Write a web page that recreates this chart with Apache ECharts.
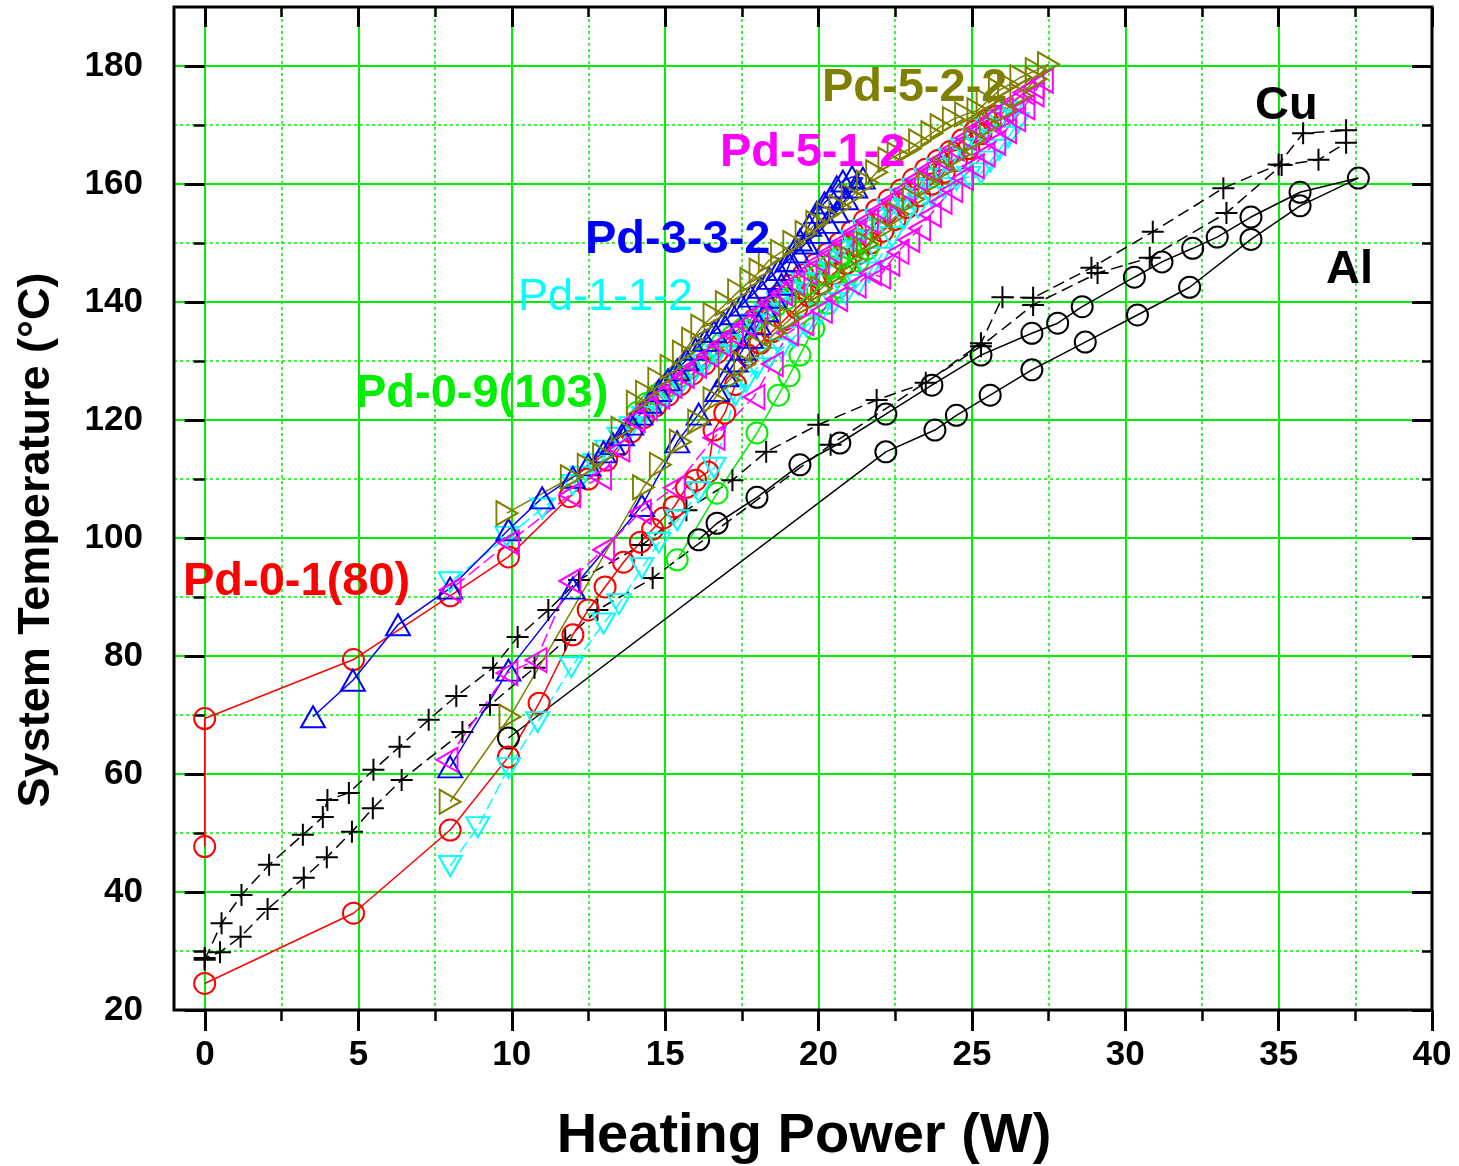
<!DOCTYPE html>
<html>
<head>
<meta charset="utf-8">
<script src="https://cdn.jsdelivr.net/npm/echarts@6/dist/echarts.min.js"></script>
<style>html,body{margin:0;padding:0;background:#fff}#c{width:1459px;height:1166px}</style>
</head>
<body>
<div id="c"></div>
<script>
// ---------- data ----------
const xRange = [0, 40];
const yRange = [20, 180];

const pd_0_1 = [[0,24.5],[4.85,36.4],[8,50.5],[9.9,62.9],[10.9,72],[12,83.6],[12.5,87.8],[13.05,91.7],[13.65,95.9],[14.2,99.3],[14.6,101.5],[14.95,103.4],[15.3,105.3],[15.7,108.6],[16,109.8],[16.4,111.2],[16.6,118.3],[16.95,121.2],[17.3,126],[17.7,131],[18.1,133],[18.5,135],[18.9,137],[19.3,139],[19.7,141],[20.1,143],[20.5,144.8],[20.9,146.5],[21.3,148.2],[21.7,150],[22.1,152],[22.5,154],[22.9,156],[23.3,158],[23.7,160],[24.1,162],[24.5,164],[24.9,166],[25.3,168.5],[25.8,171.5],
  [25.5,170.8],[25.1,169],[24.7,167.5],[24.3,165.5],[23.9,164],[23.5,162.5],[23.1,160.8],[22.7,159],[22.3,157.3],[21.9,155.6],[21.5,153.8],[21.1,152],[20.7,150],[20.3,148.2],[19.9,146.4],[19.5,144.6],[19.1,142.8],[18.7,141],[18.3,139],[17.9,137],[17.5,135.2],[17.1,133.3],[16.7,131.4],[16.3,129.5],[15.9,127.8],[15.5,126],[15.1,124.2],[14.7,122.4],[14.3,120.4],[13.9,118],[13.5,115.6],[13.1,113.2],[12.5,110],[11.9,107],[9.9,96.8],[8,90.2],[4.85,79.4],[0,69.4],[0,47.7]];

const pd_0_9 = [[15.4,96.3],[16.7,107.6],[18,117.8],[18.7,124.2],[19.05,127.5],[19.4,131],[19.85,135.5],[20.3,139.8],[20.65,142.5],[21,144.9],[21.3,147],[21.6,149],
  [21.4,150.5],[21.05,149],[20.7,147.5],[20.35,146],[20,144.5],[19.65,143],[19.3,141.8],[18.95,140.5],[18.6,139.3],[18.25,138],[17.9,136.8],[17.55,135.5],[17.2,134.2],[16.85,133],[16.5,131.7],[16.15,130.3],[15.8,128.8],[15.45,127.3],[15.1,125.8],[14.75,124.3],[14.4,122.8],[14.1,121.3]];

const pd_1_1_2 = [[8,44.4],[8.9,51],[9.9,61],[10.85,68.8],[11.95,78.1],[13,85.5],[13.5,88.8],[14.25,94.9],[14.8,99.2],[15.4,103],[16.1,107.8],[16.6,111.9],[17.3,124.2],[17.65,126.5],[18,128.8],[18.4,130.5],[18.8,132],[19.2,134],[19.6,136],[20.05,138],[20.5,139.8],[20.9,141.3],[21.3,142.9],[21.65,145],[22,147.5],[22.4,151],[22.8,154.2],[23.25,156],[23.7,157.8],[24.1,159.3],[24.5,160.7],[24.9,161.2],[25.3,161.8],[25.6,163.8],[25.9,165.8],[26.2,168],[26.5,170.3],
  [26.3,172.2],[25.9,170.8],[25.5,169.3],[25.1,167.5],[24.7,166],[24.3,164.3],[23.9,162.6],[23.5,160.9],[23.1,159.2],[22.7,157.5],[22.3,155.7],[21.9,154],[21.5,152.2],[21.1,150.4],[20.7,148.6],[20.3,146.8],[19.9,145],[19.5,143.2],[19.1,141.5],[18.7,139.8],[18.3,138],[17.9,136.2],[17.5,134.5],[17.1,132.8],[16.7,131],[16.3,129.3],[15.9,127.5],[15.5,125.8],[15.1,124],[14.7,122.3],[14.3,120.5],[13.9,118.8],[13.5,117],[13.1,114.8],[12.7,112.5],[12.3,110.4],[12,109],[11,105],[9.85,100.2],[8,92.5]];

const pd_3_3_2 = [[8,61.2],[9.9,77.6],[12,91.5],[14.25,105.5],[15.4,116.3],[16.1,121],[16.7,125],[17,127.5],[17.3,130],[17.55,132],[17.8,134],[18.05,136.3],[18.3,138.5],[18.55,140.8],[18.8,143],[19.1,147],[19.4,150.5],[19.7,153],[19.95,155.2],[20.2,156.8],[20.4,157.8],[20.6,159.5],[20.8,160.5],[21.1,161.2],[21.45,161],
  [21.2,159.5],[20.9,157.5],[20.6,155.3],[20.3,153.5],[20,151.8],[19.6,150],[19.3,148.5],[19,147],[18.7,145.5],[18.4,144],[18.1,142.5],[17.8,141],[17.5,139.5],[17.2,138],[16.9,136.5],[16.6,135],[16.3,133.5],[16,132],[15.7,130.2],[15.4,128.5],[15.1,126.8],[14.8,125],[14.5,123],[14.2,121],[13.9,119.3],[13.6,117.5],[13.3,116],[13,114.6],[12.5,112.4],[12,110.3],[11,106.8],[9.9,101.4],[8,91.5],[6.3,85.3],[4.83,75.9],[3.53,69.7]];

const pd_5_1_2 = [[7.9,62.4],[9.85,77.1],[10.8,79.3],[11.9,92.7],[13,98],[14.2,104.4],[15.3,108.5],[16.6,117],[17.9,123.9],[18.5,129.5],[19,134.7],[19.5,136.4],[20.1,138.5],[20.6,140.5],[21.2,142.8],[21.7,144.9],[22,144.3],[22.3,146.5],[22.6,148.5],[22.95,150.5],[23.3,152.5],[23.65,154.8],[24,157],[24.35,159],[24.7,161],[25.05,163],[25.4,165],[25.75,167],[26.1,169],[26.4,171],[26.7,173],[27,175.2],[27.3,177.5],
  [27,176.5],[26.7,175.5],[26.35,174],[26,172.5],[25.6,171],[25.2,169.5],[24.8,167.8],[24.4,166],[24,164.2],[23.6,162.5],[23.2,160.8],[22.8,159],[22.4,157.2],[22,155.5],[21.6,153.8],[21.2,152],[20.8,150.2],[20.4,148.5],[20,146.8],[19.6,145],[19.2,143.2],[18.8,141.5],[18.4,139.8],[18,138],[17.6,136.2],[17.2,134.5],[16.8,132.8],[16.4,131],[16,129.2],[15.6,127.5],[15.2,125.8],[14.8,124],[14.4,122],[14,120],[13.5,115],[12.9,110.3],[11.9,107.3],[9.9,99.2],[8,91.2]];

const pd_5_2_2 = [[8,55.3],[9.95,69.7],[14.3,108.6],[14.85,112.4],[15.5,116.3],[16.1,119.7],[16.6,123.5],[17.1,126.8],[17.6,129.5],[18.1,132.3],[18.6,134.8],[19.1,137.2],[19.6,139.8],[20.1,142.3],[20.6,144.8],[21.1,147.3],[21.6,149.8],[22.1,152.4],[22.6,154.9],[23.1,157.4],[23.6,160],[24.1,162.5],[24.6,165],[25.1,167.5],[25.6,170],[26.1,172.5],[26.6,175],[27.1,177.8],[27.5,180.3],
  [27.1,179.3],[26.6,178.1],[26.2,176.8],[25.9,175.9],[25.5,174],[25.2,172.5],[24.8,171.8],[24.4,171],[24,169.8],[23.7,168.6],[23.3,167.2],[23,166],[22.6,165],[22.3,164.1],[21.9,162],[21.6,160.2],[21.1,158],[20.7,156.1],[20.3,154.8],[19.95,153.4],[19.6,151.7],[19.2,150],[18.8,148.5],[18.4,147.1],[18.1,145.3],[17.8,143.7],[17.4,141.8],[17,139.8],[16.6,137.8],[16.2,135.8],[15.9,133.6],[15.6,131.4],[15.2,129],[14.8,126.8],[14.4,124.6],[14.1,122.9],[13.6,118.5],[13,114],[12.5,112.2],[11.95,110.3],[9.85,104.2]];

const cu = [[0,28.5],[0.55,34.7],[1.2,39.5],[2.1,44.6],[3.2,49.7],[3.85,52.7],[4.0,55.6],[4.7,56.8],[5.5,60.7],[6.35,64.6],[7.3,69.2],[8.2,73.2],[9.4,78],[10.2,83.2],[11.2,87.8],[12.2,92.9],[14.25,98.8],[15.7,104.7],[17.2,109.8],[18.3,114.6],[20,119.2],[21.9,123.4],[23.5,126.3],[25.3,133],[26,140.8],[27,140.7],[28.9,145.8],[30.9,151.9],[33.2,159.3],[35,163.3],[35.8,168.6],[37.2,169.1],
  [37.2,167],[36.3,164.1],[35.1,163.2],[33.3,155.1],[30.8,147.5],[29.1,144.9],[27,139.5],[25.3,132.5],[20.4,115.8],[14.6,93.2],[12.8,87.8],[11.75,82.7],[10.75,78],[9.3,71.7],[8.4,67.1],[6.42,59],[5.48,54.2],[4.8,50.2],[3.98,45.9],[3.23,42.4],[2.05,37.1],[1.17,32.4],[0.5,29.8],[0,28.8]];

const al = [[9.9,66.1],[22.2,114.6],[23.8,118.3],[24.5,120.8],[25.6,124.2],[26.96,128.5],[28.7,133.2],[30.4,137.8],[32.1,142.5],[34.1,150.6],[35.7,156.3],[37.6,161],
  [35.7,158.6],[34.1,154.4],[33,151],[32.2,149.1],[31.2,146.8],[30.3,144.2],[28.6,139.2],[27.8,136.4],[26.96,134.7],[25.3,131],[23.7,125.9],[22.2,121],[20.7,116.1],[19.4,112.4],[18,106.9],[16.7,102.5],[16.1,99.7]];

const seriesNames = ['Al','Cu','Pd-0-1(80)','Pd-0-9(103)','Pd-1-1-2','Pd-3-3-2','Pd-5-1-2','Pd-5-2-2'];

// ---------- styles ----------
const GREEN = '#00ee00';
const FONT = "'Liberation Sans', Arial, sans-serif";
const SYM = {
  circle: 'circle',
  up: 'path://M10,0 L20,18 L0,18 Z',
  down: 'path://M0,0 L20,0 L10,18 Z',
  left: 'path://M0,10 L18,0 L18,20 Z',
  right: 'path://M0,0 L18,10 L0,20 Z',
  cross: 'path://M0,10 L20,10 M10,0 L10,20'
};

function mk(name, data, color, sym, size, lineType) {
  return {
    name: name, type: 'line', xAxisIndex: 0, yAxisIndex: 0, data: data,
    symbol: SYM[sym], symbolSize: size, showAllSymbol: true, clip: false,
    silent: true, animation: false,
    lineStyle: { color: color, width: 1.5, type: lineType || 'solid' },
    itemStyle: { color: 'rgba(0,0,0,0)', borderColor: color, borderWidth: 2 },
    emphasis: { disabled: true }
  };
}

const chart = echarts.init(document.getElementById('c'), null, { renderer: 'canvas' });

const tickLabel = { fontFamily: FONT, fontWeight: 'bold', fontSize: 35, color: '#000' };

const option = {
  animation: false,
  backgroundColor: '#fff',
  grid: [
    { left: 174, right: 27, top: 7, bottom: 156, show: true, borderColor: '#000', borderWidth: 3, backgroundColor: 'rgba(0,0,0,0)', z: 10 },
    { left: 205, right: 27, top: 7, bottom: 156 },
    { left: 174, right: 27, top: 66, bottom: 156 }
  ],
  xAxis: [
    { gridIndex: 0, type: 'value', min: -1, max: 40, show: false },
    { gridIndex: 1, type: 'value', position: 'bottom', min: xRange[0], max: xRange[1], interval: 5,
      axisLine: { show: false },
      axisTick: { show: true, inside: false, length: 21, lineStyle: { color: '#000', width: 3 } },
      minorTick: { show: true, splitNumber: 2, length: 11, lineStyle: { color: '#000', width: 2.5 } },
      axisLabel: Object.assign({ margin: 28 }, tickLabel),
      splitLine: { show: true, lineStyle: { color: GREEN, width: 2 } },
      minorSplitLine: { show: true, lineStyle: { color: GREEN, width: 1.5, type: [3, 3] } } },
    { gridIndex: 1, type: 'value', position: 'top', min: xRange[0], max: xRange[1], interval: 5,
      axisLine: { show: false },
      axisTick: { show: true, inside: true, length: 20, lineStyle: { color: '#000', width: 3 } },
      minorTick: { show: true, splitNumber: 2, length: 10, lineStyle: { color: '#000', width: 2.5 } },
      axisLabel: { show: false }, splitLine: { show: false } },
    { gridIndex: 2, type: 'value', min: -1, max: 40, show: false }
  ],
  yAxis: [
    { gridIndex: 0, type: 'value', min: 20, max: 190, show: false },
    { gridIndex: 1, type: 'value', min: 20, max: 190, show: false },
    { gridIndex: 2, type: 'value', position: 'left', min: yRange[0], max: yRange[1], interval: 20,
      axisLine: { show: false },
      axisTick: { show: true, inside: false, length: 20, lineStyle: { color: '#000', width: 3 } },
      minorTick: { show: true, splitNumber: 2, length: 11, lineStyle: { color: '#000', width: 2.5 } },
      axisLabel: Object.assign({ margin: 31 }, tickLabel),
      splitLine: { show: true, lineStyle: { color: GREEN, width: 2 } },
      minorSplitLine: { show: true, lineStyle: { color: GREEN, width: 1.5, type: [3, 3] } } },
    { gridIndex: 2, type: 'value', position: 'right', min: yRange[0], max: yRange[1], interval: 20,
      axisLine: { show: false },
      axisTick: { show: true, inside: true, length: 20, lineStyle: { color: '#000', width: 3 } },
      minorTick: { show: true, splitNumber: 2, length: 10, lineStyle: { color: '#000', width: 2.5 } },
      axisLabel: { show: false }, splitLine: { show: false } }
  ],
  series: [
    mk(seriesNames[0], al, '#000000', 'circle', 21, 'solid'),
    mk(seriesNames[1], cu, '#000000', 'cross', 22, [12, 6]),
    mk(seriesNames[2], pd_0_1, '#ff0000', 'circle', 21, 'solid'),
    mk(seriesNames[3], pd_0_9, '#00ee00', 'circle', 21, 'solid'),
    mk(seriesNames[4], pd_1_1_2, '#00ffff', 'down', [23, 20], [12, 5]),
    mk(seriesNames[5], pd_3_3_2, '#0000ff', 'up', [24, 21], 'solid'),
    mk(seriesNames[6], pd_5_1_2, '#ff00ff', 'left', [21, 24], [14, 5]),
    mk(seriesNames[7], pd_5_2_2, '#808000', 'right', [21, 24], 'solid')
  ],
  graphic: [
    { type: 'text', x: 183, y: 582, z: 100, style: { text: 'Pd-0-1(80)', fill: '#ff0000', font: 'bold 47px ' + FONT, align: 'left', verticalAlign: 'middle' } },
    { type: 'text', x: 355, y: 394, z: 100, style: { text: 'Pd-0-9(103)', fill: '#00ee00', font: 'bold 47px ' + FONT, align: 'left', verticalAlign: 'middle' } },
    { type: 'text', x: 518, y: 298, z: 100, style: { text: 'Pd-1-1-2', fill: '#00ffff', font: '45px ' + FONT, align: 'left', verticalAlign: 'middle' } },
    { type: 'text', x: 585, y: 240, z: 100, style: { text: 'Pd-3-3-2', fill: '#0000ff', font: 'bold 47px ' + FONT, align: 'left', verticalAlign: 'middle' } },
    { type: 'text', x: 720, y: 153, z: 100, style: { text: 'Pd-5-1-2', fill: '#ff00ff', font: 'bold 47px ' + FONT, align: 'left', verticalAlign: 'middle' } },
    { type: 'text', x: 822, y: 88, z: 100, style: { text: 'Pd-5-2-2', fill: '#808000', font: 'bold 47px ' + FONT, align: 'left', verticalAlign: 'middle' } },
    { type: 'text', x: 1255, y: 106, z: 100, style: { text: 'Cu', fill: '#000', font: 'bold 47px ' + FONT, align: 'left', verticalAlign: 'middle' } },
    { type: 'text', x: 1326, y: 270, z: 100, style: { text: 'Al', fill: '#000', font: 'bold 47px ' + FONT, align: 'left', verticalAlign: 'middle' } },
    { type: 'text', x: 804, y: 1137, z: 100, style: { text: 'Heating Power (W)', fill: '#000', font: 'bold 56px ' + FONT, align: 'center', verticalAlign: 'middle' } },
    { type: 'text', x: 37, y: 540, rotation: Math.PI / 2, z: 100, style: { text: 'System Temperature (°C)', fill: '#000', font: 'bold 45px ' + FONT, align: 'center', verticalAlign: 'middle' } }
  ]
};
chart.setOption(option);
</script>
</body>
</html>
